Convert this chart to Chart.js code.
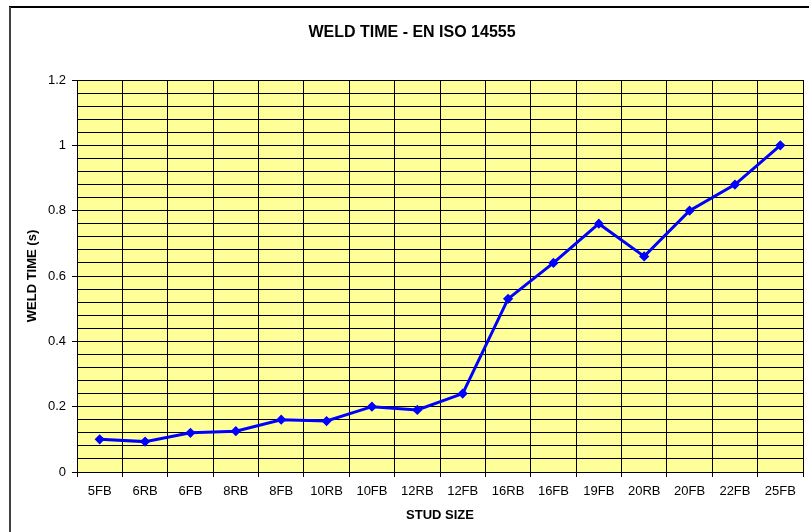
<!DOCTYPE html>
<html>
<head>
<meta charset="utf-8">
<script src="https://cdn.jsdelivr.net/npm/chart.js@4/dist/chart.umd.min.js"></script>
<style>
  html, body { margin: 0; padding: 0; background: #fff; }
  #wrap { width: 809px; height: 532px; }
</style>
</head>
<body>
<div id="wrap"><canvas id="weld"></canvas></div>
<script>
const studSizes = ["5FB", "6RB", "6FB", "8RB", "8FB", "10RB", "10FB", "12RB",
  "12FB", "16RB", "16FB", "19FB", "20RB", "20FB", "22FB", "25FB"];
const weldTimes = [0.10, 0.093, 0.12, 0.125, 0.16, 0.156, 0.20, 0.19,
  0.24, 0.53, 0.64, 0.76, 0.66, 0.80, 0.88, 1.00];
const yLabelValues = [0, 0.2, 0.4, 0.6, 0.8, 1, 1.2];

const font = "'Liberation Sans', Arial, sans-serif";

// yellow plot area + the chart frame (top and left edge only, as in the picture)
const frame = {
  id: "frame",
  beforeDraw(chart) {
    const { ctx, chartArea: a } = chart;
    ctx.save();
    ctx.fillStyle = "#FFFF99";
    ctx.fillRect(a.left, a.top, a.right - a.left, a.bottom - a.top);
    ctx.strokeStyle = "#000";
    ctx.lineWidth = 2;
    ctx.beginPath();
    ctx.moveTo(9, 7);
    ctx.lineTo(809, 7);
    ctx.stroke();
    ctx.strokeStyle = "#404040";
    ctx.beginPath();
    ctx.moveTo(10, 7);
    ctx.lineTo(10, 532);
    ctx.stroke();
    ctx.restore();
  }
};

const isMajor = (v) => yLabelValues.some((m) => Math.abs(m - v) < 1e-6);

new Chart(document.getElementById("weld"), {
  type: "line",
  data: {
    labels: studSizes,
    datasets: [{
      data: weldTimes,
      borderColor: "#0000FF",
      backgroundColor: "#0000FF",
      borderWidth: 3,
      pointStyle: "rectRot",
      pointRadius: 3,
      pointHoverRadius: 3,
      tension: 0,
      fill: false,
    }],
  },
  options: {
    responsive: true,
    maintainAspectRatio: false,
    animation: false,
    events: [],
    layout: { padding: { left: 19, right: 4, top: 0, bottom: 0 } },
    plugins: {
      legend: { display: false },
      tooltip: { enabled: false },
      title: {
        display: true,
        text: "WELD TIME - EN ISO 14555",
        color: "#000",
        font: { family: font, size: 16, weight: "bold" },
        padding: { top: 23.4, bottom: 37.4 },
      },
    },
    scales: {
      x: {
        offset: true,
        afterFit(scale) { scale.height = 60; },
        grid: { offset: true, color: "#000", lineWidth: 1, tickLength: 5, tickColor: "#000" },
        border: { color: "#000", width: 1 },
        ticks: {
          color: "#000", font: { family: font, size: 13 },
          maxRotation: 0, autoSkip: false, padding: 7,
        },
        title: {
          display: true, text: "STUD SIZE", color: "#000",
          font: { family: font, size: 13, weight: "bold" },
          padding: { top: 0, bottom: 9.2 },
        },
      },
      y: {
        min: 0,
        max: 1.2,
        afterFit(scale) { scale.width = 58; },
        grid: {
          color: "#000", lineWidth: 1, tickLength: 5,
          tickColor: (ctx) => (ctx.tick && isMajor(ctx.tick.value) ? "#000" : "rgba(0,0,0,0)"),
        },
        border: { color: "#000", width: 1 },
        ticks: {
          stepSize: 0.04,
          autoSkip: false,
          color: "#000", font: { family: font, size: 13 }, padding: 6,
          callback: (v) => (isMajor(v) ? String(Math.round(v * 10) / 10) : ""),
        },
        title: {
          display: true, text: "WELD TIME (s)", color: "#000",
          font: { family: font, size: 13, weight: "bold" },
          padding: { top: 5.2, bottom: 0 },
        },
      },
    },
  },
  plugins: [frame],
});
</script>
</body>
</html>
